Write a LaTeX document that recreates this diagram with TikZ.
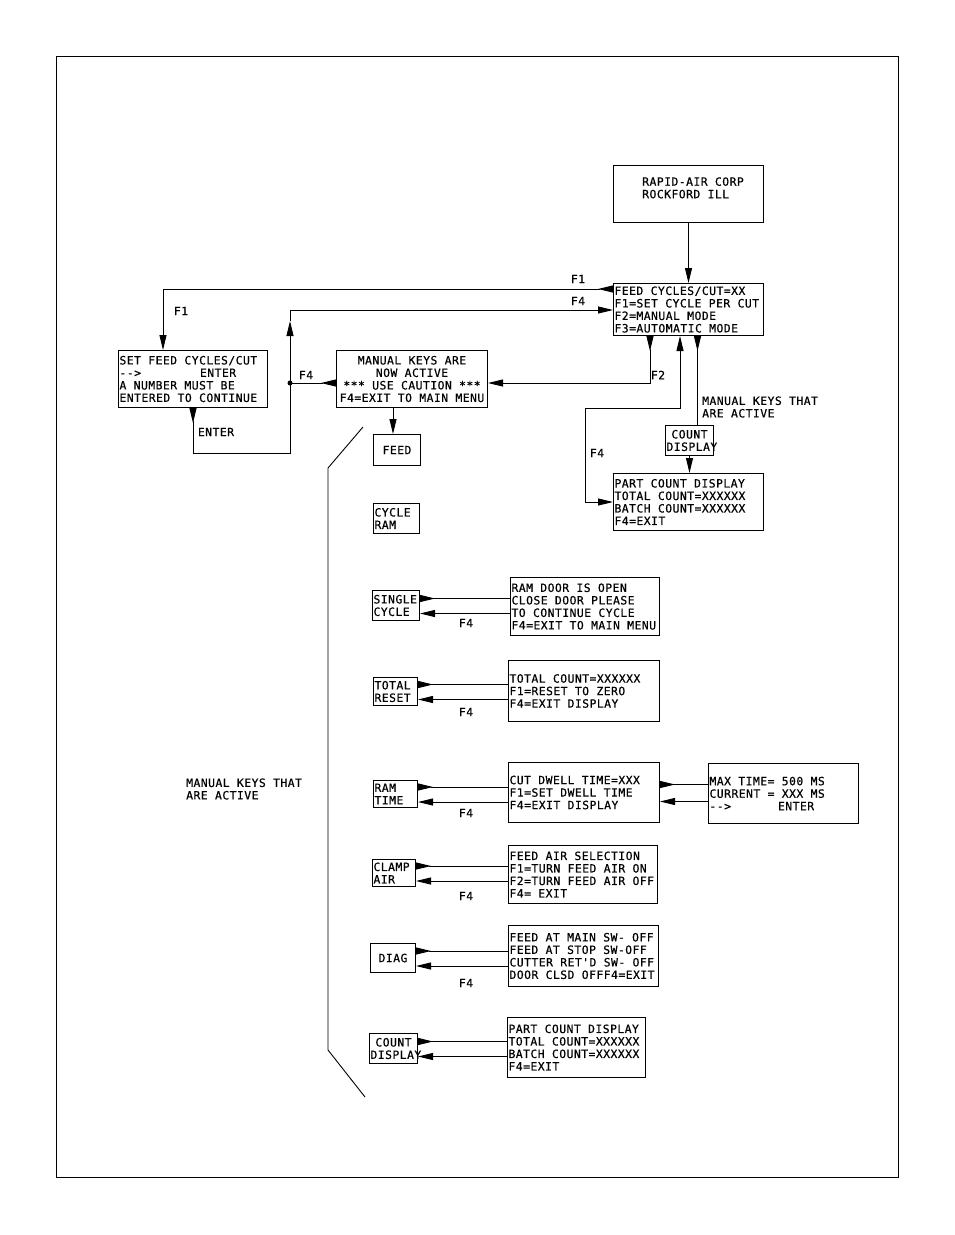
\documentclass[tikz,border=0pt]{standalone}
\usepackage{fontspec}
\usetikzlibrary{arrows.meta, calc}
\newfontfamily\plotfont[LetterSpace=4, FakeBold=0.5, WordSpace={1,0,0}]{DejaVu Sans Mono}
\newcommand{\plottext}{\plotfont\fontsize{11.4}{12.5}\selectfont}
\tikzset{
  scr/.style={draw, line width=1pt, anchor=north west, inner xsep=1pt, inner ysep=0pt, font=\plottext, align=flush left},
  lbl/.style={font=\plottext, inner sep=0pt},
  link/.style={line width=0.9pt},
  fwd/.style={link, -{Triangle[length=15pt,width=7pt]}},
  rev/.style={link, {Triangle[reversed,length=15pt,width=7pt]}-},
  revfwd/.style={link, {Triangle[reversed,length=15pt,width=7pt]}-{Triangle[length=15pt,width=7pt]}},
  twoway/.style={link, {Triangle[length=15pt,width=7pt]}-{Triangle[length=15pt,width=7pt]}}
}

\begin{document}
\begin{tikzpicture}[x=1pt, y=-1pt]
  \useasboundingbox (0,0) rectangle (954,1235);
  \draw[link] (56,56) rectangle (898,1177);

  % main menu screens
  \node[scr, minimum width=150pt, minimum height=57pt] (rapid) at (613,165) {\hspace*{9pt}RAPID-AIR CORP\\\hspace*{9pt}ROCKFORD ILL\\ \mbox{}};
  \node[scr, text width=148pt, minimum height=52pt] (main) at (613,283) {FEED CYCLES/CUT=XX\\F1=SET CYCLE PER CUT\\F2=MANUAL MODE\\F3=AUTOMATIC MODE};
  \node[scr, text width=147pt, minimum height=57pt] (setfc) at (118,350) {SET FEED CYCLES/CUT\\-{}-{}>\hspace{59pt}ENTER\\A NUMBER MUST BE\\ENTERED TO CONTINUE};
  \node[scr, align=flush center, text width=149pt, minimum height=57pt] (manual) at (336,350) {MANUAL KEYS ARE\\NOW ACTIVE\\{}*** USE CAUTION ***\\F4=EXIT TO MAIN MENU};
  \node[scr, align=flush center, text width=46pt, minimum height=30pt] (cdisp) at (665,425) {COUNT\\DISPLAY};
  \node[scr, text width=148pt, minimum height=57pt] (partc) at (613,473) {PART COUNT DISPLAY\\TOTAL COUNT=XXXXXX\\BATCH COUNT=XXXXXX\\F4=EXIT};

  % manual keys
  \node[scr, align=flush center, text width=45pt, minimum height=31pt] (feed) at (373,434) {FEED};
  \node[scr, text width=44pt, minimum height=30pt] (cycram) at (373,503) {CYCLE\\RAM};
  \node[scr, text width=45pt, minimum height=30pt] (single) at (372,590) {SINGLE\\CYCLE};
  \node[scr, text width=42pt, minimum height=28pt] (treset) at (373,677) {TOTAL\\RESET};
  \node[scr, text width=42pt, minimum height=27pt] (ramtime) at (373,780) {RAM\\TIME};
  \node[scr, text width=41pt, minimum height=27pt] (clamp) at (372,859) {CLAMP\\AIR};
  \node[scr, align=flush center, text width=43pt, minimum height=29pt] (diag) at (370,943) {DIAG};
  \node[scr, align=flush center, text width=46pt, minimum height=30pt] (cdisp2) at (369,1033) {COUNT\\DISPLAY};

  % key screens
  \node[scr, text width=147pt, minimum height=58pt] (ramdoor) at (510,577) {RAM DOOR IS OPEN\\CLOSE DOOR PLEASE\\TO CONTINUE CYCLE\\F4=EXIT TO MAIN MENU};
  \node[scr, text width=149pt, minimum height=61pt] (tcount) at (508,660) {TOTAL COUNT=XXXXXX\\F1=RESET TO ZERO\\F4=EXIT DISPLAY};
  \node[scr, text width=149pt, minimum height=60pt] (dwell) at (508,762) {CUT DWELL TIME=XXX\\F1=SET DWELL TIME\\F4=EXIT DISPLAY};
  \node[scr, text width=148pt, minimum height=60pt] (maxt) at (708,763) {MAX TIME= 500 MS\\CURRENT = XXX MS\\-{}-{}>\hspace{47pt}ENTER};
  \node[scr, text width=147pt, minimum height=58pt] (feedair) at (508,845) {FEED AIR SELECTION\\F1=TURN FEED AIR ON\\F2=TURN FEED AIR OFF\\F4= EXIT};
  \node[scr, text width=148pt, minimum height=61pt] (diagtxt) at (508,925) {FEED AT MAIN SW- OFF\\FEED AT STOP SW-OFF\\CUTTER RET'D SW- OFF\\DOOR CLSD OFFF4=EXIT};
  \node[scr, text width=136pt, minimum height=60pt] (partc2) at (507,1017) {PART COUNT DISPLAY\\TOTAL COUNT=XXXXXX\\BATCH COUNT=XXXXXX\\F4=EXIT};

  % labels
  \node[lbl] (lf1a) at (578,279) {F1};
  \node[lbl] (lf4a) at (578,301) {F4};
  \node[lbl] (lf1b) at (181,311) {F1};
  \node[lbl] (lenter) at (216,432) {ENTER};
  \node[lbl] (lf4b) at (306,375) {F4};
  \node[lbl] (lf2) at (658,375) {F2};
  \node[lbl] (lf4c) at (597,453) {F4};
  \node[lbl, align=flush left, anchor=west] (lkeys) at (702,407) {MANUAL KEYS THAT\\ARE ACTIVE};
  \node[lbl, align=flush left, anchor=west] (lkeys2) at (186,789) {MANUAL KEYS THAT\\ARE ACTIVE};
  \foreach \s/\y in {single/623, treset/712, ramtime/813, clamp/896, diag/983}
    \node[lbl] (lf4\s) at (466,\y) {F4};

  % connectors
  \coordinate (jct) at (290,383);
  \coordinate (enterc) at (290,453);
  \coordinate (upf4) at (290,321);
  \coordinate (f4c) at (585,408);
  \coordinate (mk) at ([xshift=9pt]main.south);
  \coordinate (mf) at ([xshift=-19pt]manual.south);

  \draw[fwd] (rapid) -- (main);
  \draw[revfwd] ([yshift=-6pt]main.north west) -| ([xshift=45pt]setfc.north west);
  \draw[rev] (setfc.south) |- (enterc) -- (jct);
  \draw[fwd] (jct) -- (upf4);
  \draw[fwd] (upf4) |- ([yshift=-27pt]main.north west);
  \draw[rev] (manual.west |- jct) -- (jct);
  \fill (jct) circle (2.5pt);
  \draw[revfwd] ([xshift=37pt]main.south west) |- (manual.east |- jct);
  \draw[twoway] ([xshift=67pt]main.south west) |- (f4c) |- (partc.west);
  \draw[rev] (mk) -- (mk |- cdisp.north);
  \draw[fwd] (cdisp) -- (cdisp |- partc.north);
  \draw[fwd] (mf) -- (mf |- feed.north);

  \foreach \s/\b in {single/ramdoor, treset/tcount, ramtime/dwell, clamp/feedair, diag/diagtxt, cdisp2/partc2} {
    \draw[rev] ($(\s.east)+(0,-7)$) -- ($(\s.east -| \b.west)+(0,-7)$);
    \draw[fwd] ($(\s.east -| \b.west)+(0,8)$) -- ($(\s.east)+(0,8)$);
  }
  \draw[rev] ($(dwell.east)+(0,-8)$) -- ($(dwell.east -| maxt.west)+(0,-8)$);
  \draw[fwd] ($(dwell.east -| maxt.west)+(0,9)$) -- ($(dwell.east)+(0,9)$);

  % bracket for the manual keys
  \draw[link] (363,427) -- (328,468) -- (328,1050) -- (365,1097);
\end{tikzpicture}
\end{document}
